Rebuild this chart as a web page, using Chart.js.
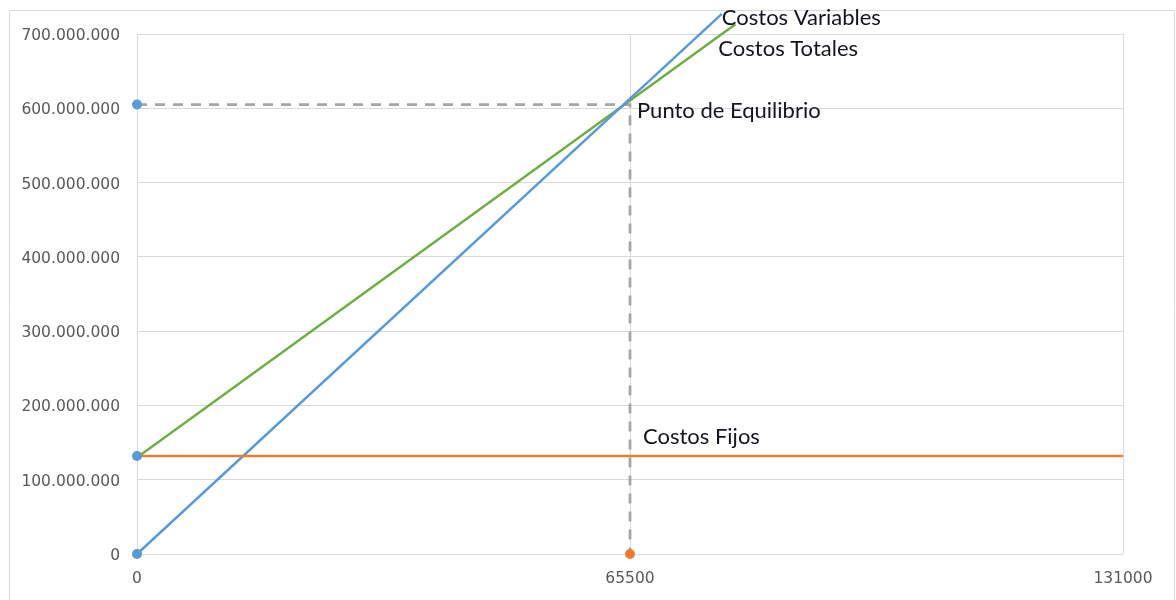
<!DOCTYPE html>
<html>
<head>
<meta charset="utf-8">
<script src="https://cdn.jsdelivr.net/npm/chart.js@4.4.1/dist/chart.umd.min.js"></script>
<style>
  html, body { margin: 0; padding: 0; background: #ffffff; }
  #wrap { position: relative; width: 1176px; height: 600px; }
</style>
</head>
<body>
<div id="wrap"><canvas id="c" width="1176" height="600"></canvas></div>
<script>
// Units sold (x) and costs in pesos (y)
const unitsVariables = [0, 77700];
const costVariables  = [0, 727000000];
const unitsTotales   = [0, 79500];
const costTotales    = [130000000, 713000000];
const unitsFijos     = [0, 131000];
const costFijos      = [132000000, 132000000];
const breakEvenUnits = 65500;
const breakEvenCost  = 605000000;

const xTicks = [0, 65500, 131000];
const yTicks = [0, 100000000, 200000000, 300000000, 400000000, 500000000, 600000000, 700000000];

const seriesNames = ['Costos Variables', 'Costos Totales', 'Costos Fijos'];
const breakEvenName = 'Punto de Equilibrio';

const BLUE = '#5B9BD5', ORANGE = '#ED7D31', GREEN = '#70AD47', GREY = '#A6A6A6';

const toPts = (xs, ys) => xs.map((x, i) => ({ x: x, y: ys[i] }));

const markerPts = [
  { x: 0, y: breakEvenCost },
  { x: 0, y: costFijos[0] },
  { x: 0, y: 0 },
  { x: breakEvenUnits, y: 0 }
];

const fmtThousands = v => String(Math.round(v)).replace(/\B(?=(\d{3})+(?!\d))/g, '.');

// Outer frame around the chart
const framePlugin = {
  id: 'frame',
  beforeDraw(chart) {
    const ctx = chart.ctx;
    ctx.save();
    ctx.strokeStyle = '#D9D9D9';
    ctx.lineWidth = 1;
    ctx.beginPath();
    ctx.moveTo(9.5, 600);
    ctx.lineTo(9.5, 10.5);
    ctx.lineTo(1174.5, 10.5);
    ctx.lineTo(1174.5, 600);
    ctx.stroke();
    ctx.restore();
  }
};

// Text labels placed next to the series they name
const labelPlugin = {
  id: 'seriesLabels',
  afterDatasetsDraw(chart) {
    const ctx = chart.ctx;
    const xs = chart.scales.x, ys = chart.scales.y;
    ctx.save();
    ctx.font = '22px Lato, "Open Sans", sans-serif';
    ctx.fillStyle = '#14141E';
    ctx.textAlign = 'left';
    ctx.textBaseline = 'middle';
    const n = unitsVariables.length - 1;
    ctx.fillText(seriesNames[0], xs.getPixelForValue(unitsVariables[n]) + 0, ys.getPixelForValue(costVariables[n]) + 4);
    const m = unitsTotales.length - 1;
    ctx.fillText(seriesNames[1], xs.getPixelForValue(unitsTotales[m]) - 17, ys.getPixelForValue(costTotales[m]) + 25);
    ctx.fillText(breakEvenName, xs.getPixelForValue(breakEvenUnits) + 7, ys.getPixelForValue(breakEvenCost) + 6);
    ctx.fillText(seriesNames[2], xs.getPixelForValue(breakEvenUnits) + 13, ys.getPixelForValue(costFijos[0]) - 19);
    ctx.restore();
  }
};

new Chart(document.getElementById('c'), {
  type: 'scatter',
  data: {
    datasets: [
      {
        label: 'markers',
        data: markerPts,
        showLine: false,
        pointRadius: 5,
        pointHoverRadius: 5,
        pointBorderWidth: 0,
        pointBackgroundColor: [BLUE, BLUE, BLUE, ORANGE],
        pointBorderColor: [BLUE, BLUE, BLUE, ORANGE],
        clip: false,
        order: 0
      },
      {
        label: seriesNames[2],
        data: toPts(unitsFijos, costFijos),
        showLine: true,
        borderColor: ORANGE,
        borderWidth: 2.5,
        pointRadius: 0,
        order: 1
      },
      {
        label: seriesNames[0],
        data: toPts(unitsVariables, costVariables),
        showLine: true,
        borderColor: BLUE,
        borderWidth: 2.5,
        pointRadius: 0,
        clip: false,
        order: 2
      },
      {
        label: seriesNames[1],
        data: toPts(unitsTotales, costTotales),
        showLine: true,
        borderColor: GREEN,
        borderWidth: 2.5,
        pointRadius: 0,
        clip: false,
        order: 3
      },
      {
        label: breakEvenName,
        data: [
          { x: 0, y: breakEvenCost },
          { x: breakEvenUnits, y: breakEvenCost },
          { x: breakEvenUnits, y: 0 }
        ],
        showLine: true,
        borderColor: GREY,
        borderWidth: 2.75,
        borderDash: [10, 8],
        pointRadius: 0,
        order: 4
      }
    ]
  },
  options: {
    responsive: false,
    animation: false,
    events: [],
    layout: { padding: { left: 0, top: 34, right: 53, bottom: 0 } },
    plugins: {
      legend: { display: false },
      tooltip: { enabled: false }
    },
    scales: {
      x: {
        type: 'linear',
        min: 0,
        max: 131000,
        afterBuildTicks: s => { s.ticks = xTicks.map(v => ({ value: v })); },
        afterFit: s => { s.height = 46; },
        grid: { color: '#D9D9D9', lineWidth: 1, drawTicks: false },
        border: { display: false },
        ticks: {
          padding: 16,
          maxRotation: 0,
          color: '#595959',
          font: { family: '"DejaVu Sans", sans-serif', size: 15.5 },
          callback: v => String(v)
        }
      },
      y: {
        type: 'linear',
        min: 0,
        max: 700000000,
        afterBuildTicks: s => { s.ticks = yTicks.map(v => ({ value: v })); },
        afterFit: s => { s.width = 137; },
        grid: { color: '#D9D9D9', lineWidth: 1, drawTicks: false },
        border: { display: false },
        ticks: {
          padding: 17,
          labelOffset: 2,
          color: '#595959',
          font: { family: '"DejaVu Sans", sans-serif', size: 15.5 },
          callback: v => fmtThousands(v)
        }
      }
    }
  },
  plugins: [framePlugin, labelPlugin]
});
</script>
</body>
</html>
